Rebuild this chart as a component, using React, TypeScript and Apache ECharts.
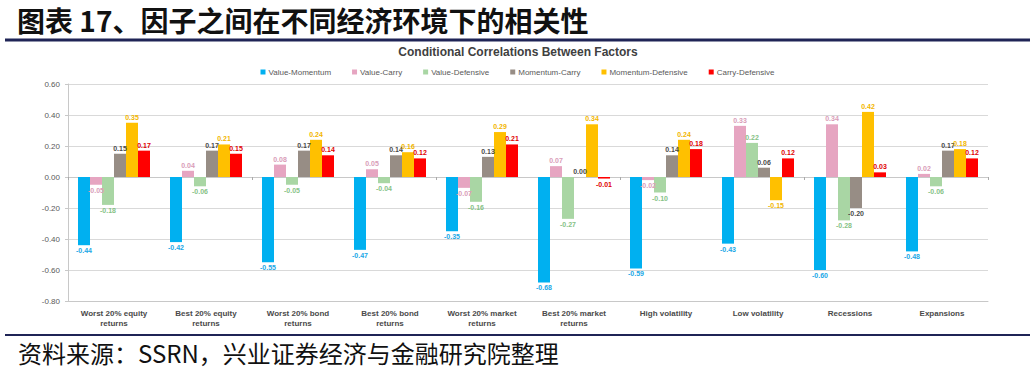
import React, { useEffect, useRef } from "react";
import * as echarts from "echarts";

const categories = [
  "Worst 20% equity\nreturns",
  "Best 20% equity\nreturns",
  "Worst 20% bond\nreturns",
  "Best 20% bond\nreturns",
  "Worst 20% market\nreturns",
  "Best 20% market\nreturns",
  "High volatility",
  "Low volatility",
  "Recessions",
  "Expansions",
];

const seriesNames = [
  "Value-Momentum",
  "Value-Carry",
  "Value-Defensive",
  "Momentum-Carry",
  "Momentum-Defensive",
  "Carry-Defensive",
];

const valueMomentum = [-0.44, -0.42, -0.55, -0.47, -0.35, -0.68, -0.59, -0.43, -0.6, -0.48];
const valueCarry = [-0.05, 0.04, 0.08, 0.05, -0.07, 0.07, -0.02, 0.33, 0.34, 0.02];
const valueDefensive = [-0.18, -0.06, -0.05, -0.04, -0.16, -0.27, -0.1, 0.22, -0.28, -0.06];
const momentumCarry = [0.15, 0.17, 0.17, 0.14, 0.13, 0.0, 0.14, 0.06, -0.2, 0.17];
const momentumDefensive = [0.35, 0.21, 0.24, 0.16, 0.29, 0.34, 0.24, -0.15, 0.42, 0.18];
const carryDefensive = [0.17, 0.15, 0.14, 0.12, 0.21, -0.01, 0.18, 0.12, 0.03, 0.12];

const yMin = -0.8;
const yMax = 0.6;
const yInterval = 0.2;

const titleText = "图表 17、因子之间在不同经济环境下的相关性";
const chartTitle = "Conditional Correlations Between Factors";
const footerText = "资料来源：SSRN，兴业证券经济与金融研究院整理";

const barColors = ["#00B0F0", "#E6A5C1", "#A9D6A4", "#978D85", "#FFC000", "#FF0000"];
const labelColors = ["#1AA8E6", "#D99DB8", "#86C286", "#4A4A4A", "#F2B600", "#E00000"];

export default function App() {
  const ref = useRef<HTMLDivElement>(null);

  useEffect(() => {
    if (!ref.current) return;
    const chart = echarts.init(ref.current, undefined, { renderer: "svg" });
    const allValues = [valueMomentum, valueCarry, valueDefensive, momentumCarry, momentumDefensive, carryDefensive];
    const font = "Liberation Sans, Arial, sans-serif";

    const series = allValues.map((vals, i) => ({
      name: seriesNames[i],
      type: "bar",
      xAxisIndex: 0,
      barWidth: 12,
      barGap: "0%",
      itemStyle: { color: barColors[i] },
      data: vals.map((v) => ({
        value: v,
        label: { position: v < 0 ? "bottom" : "top" },
      })),
      label: {
        show: true,
        distance: 2,
        fontSize: 7,
        fontWeight: "bold",
        fontFamily: font,
        color: labelColors[i],
        formatter: (p: any) => Number(p.value).toFixed(2),
      },
    }));

    chart.setOption({
      animation: false,
      backgroundColor: "#ffffff",
      title: {
        text: chartTitle,
        left: 513,
        top: 41,
        textAlign: "center",
        textStyle: { fontSize: 12, fontWeight: "bold", color: "#404040", fontFamily: font },
      },
      legend: {
        data: seriesNames,
        top: 63,
        left: "center",
        itemWidth: 5,
        itemHeight: 5,
        itemGap: 21,
        icon: "rect",
        textStyle: { fontSize: 8, color: "#595959", fontFamily: font, padding: [0, 0, 0, -2] },
      },
      grid: { left: 68, right: 47, top: 84, bottom: 68, containLabel: false },
      xAxis: [
        {
          type: "category",
          data: categories,
          position: "bottom",
          axisLine: { onZero: false, show: true, lineStyle: { color: "#C8C8C8" } },
          axisTick: { show: false },
          axisLabel: {
            interval: 0,
            margin: 7,
            fontSize: 8,
            lineHeight: 10,
            fontWeight: "bold",
            color: "#4A4A4A",
            fontFamily: font,
          },
        },
        {
          type: "category",
          data: categories,
          position: "bottom",
          axisLine: { onZero: true, show: true, lineStyle: { color: "#C8C8C8" } },
          axisTick: { show: true, length: 3, lineStyle: { color: "#AAAAAA" } },
          axisLabel: { show: false },
        },
      ],
      yAxis: {
        type: "value",
        min: yMin,
        max: yMax,
        interval: yInterval,
        axisLine: { show: true, lineStyle: { color: "#C8C8C8" } },
        axisTick: { show: true, length: 3, lineStyle: { color: "#C8C8C8" } },
        splitLine: { show: true, lineStyle: { color: "#D9D9D9" } },
        axisLabel: {
          fontSize: 8,
          color: "#595959",
          margin: 8,
          fontFamily: font,
          formatter: (v: number) => v.toFixed(2),
        },
      },
      series,
      graphic: [
        {
          type: "text",
          x: 17,
          y: 20,
          style: {
            text: titleText,
            fontSize: 28,
            fontWeight: "bold",
            fontFamily: "Noto Sans CJK SC",
            fill: "#111111",
            verticalAlign: "middle",
          },
        },
        {
          type: "line",
          shape: { x1: 5, y1: 40, x2: 1030, y2: 40 },
          style: { stroke: "#1F2456", lineWidth: 3 },
        },
        {
          type: "line",
          shape: { x1: 5, y1: 335, x2: 1030, y2: 335 },
          style: { stroke: "#1F2456", lineWidth: 2 },
        },
        {
          type: "text",
          x: 18,
          y: 352,
          style: {
            text: footerText,
            fontSize: 24,
            fontFamily: "Noto Sans CJK SC",
            fill: "#111111",
            verticalAlign: "middle",
          },
        },
      ],
    });

    return () => chart.dispose();
  }, []);

  return (
    <div
      ref={ref}
      style={{ position: "fixed", left: 0, top: 0, width: 1035, height: 369, background: "#fff" }}
    />
  );
}
